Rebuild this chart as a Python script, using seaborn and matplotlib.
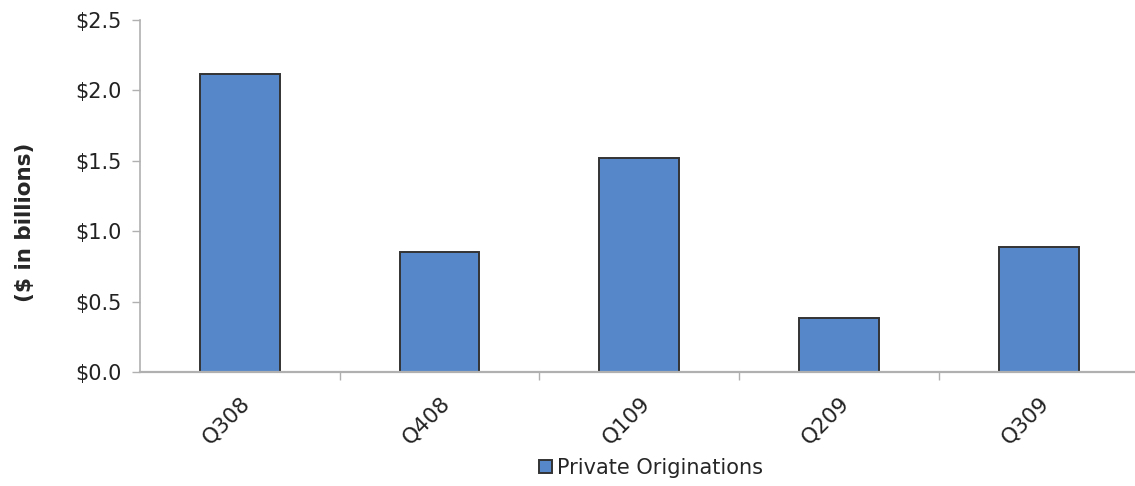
import matplotlib
matplotlib.use("Agg")
import matplotlib.pyplot as plt
import seaborn as sns
import pandas as pd
from matplotlib.ticker import FixedLocator, FuncFormatter

quarters = ["Q308", "Q408", "Q109", "Q209", "Q309"]
originations = [2.12, 0.85, 1.52, 0.38, 0.89]
series_name = "Private Originations"
y_ticks = [0.0, 0.5, 1.0, 1.5, 2.0, 2.5]

sns.set_theme(style="white")
plt.rcParams['font.family'] = ['DejaVu Sans']

df = pd.DataFrame({"quarter": quarters, "value": originations})

fig = plt.figure(figsize=(11.35, 4.86), dpi=100)
ax = fig.add_axes([140 / 1135, 1 - 372 / 486, (1135 - 140) / 1135 + 0.003, (372 - 20) / 486])

bar_color = "#5587C9"
sns.barplot(data=df, x="quarter", y="value", color=bar_color, width=0.4,
            edgecolor="#333333", linewidth=1.4, saturation=1, ax=ax,
            label=series_name)

ax.set_xlim(-0.5, 4.5)
ax.set_ylim(0, 2.5)
ax.set_yticks(y_ticks)
ax.yaxis.set_major_formatter(FuncFormatter(lambda v, p: f"${v:.1f}"))
ax.set_xlabel("")
ax.set_ylabel("($ in billions)", fontsize=15.5, fontweight="bold")
ax.yaxis.set_label_coords(-0.1055, 0.4265)

for s in ["top", "right"]:
    ax.spines[s].set_visible(False)
ax.spines["left"].set_color("#b0b0b0")
ax.spines["bottom"].set_color("#b0b0b0")
ax.spines["left"].set_linewidth(1.2)
ax.spines["bottom"].set_linewidth(1.6)

ax.tick_params(axis="y", which="major", left=True, length=6, width=1, color="#b0b0b0",
               labelsize=15, pad=7, direction="out")
ax.tick_params(axis="x", which="major", bottom=False, labelsize=15.5, pad=9)
ax.xaxis.set_minor_locator(FixedLocator([0.5, 1.5, 2.5, 3.5]))
ax.tick_params(axis="x", which="minor", bottom=True, length=6, width=1, color="#b0b0b0",
               direction="out")
for lbl in ax.get_xticklabels():
    lbl.set_rotation(45)
    lbl.set_ha("right")
    lbl.set_rotation_mode("anchor")
    lbl.set_color("#222222")
for lbl in ax.get_yticklabels():
    lbl.set_color("#222222")

leg = ax.legend(loc="center", bbox_to_anchor=(651 / 1135, 1 - 468 / 486),
                bbox_transform=fig.transFigure, frameon=False, fontsize=15,
                handlelength=0.6, handleheight=0.6, handletextpad=0.25)

fig.savefig("out.png", dpi=100, facecolor="white")
